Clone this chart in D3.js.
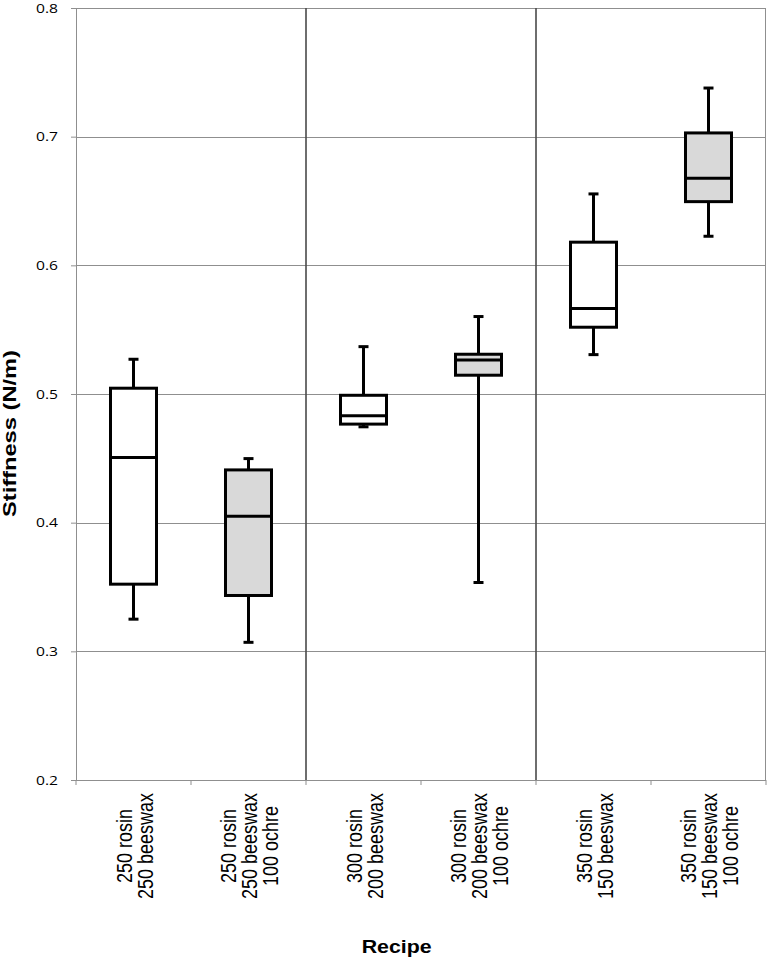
<!DOCTYPE html>
<html>
<head>
<meta charset="utf-8">
<script src="https://cdn.jsdelivr.net/npm/d3@7"></script>
<style>
  html, body { margin: 0; padding: 0; background: #fff; }
  svg { display: block; }
</style>
</head>
<body>
<svg id="chart" width="768" height="959"></svg>
<script>
// ---- data ----
const categories = [
  ["250 rosin", "250 beeswax"],
  ["250 rosin", "250 beeswax", "100 ochre"],
  ["300 rosin", "200 beeswax"],
  ["300 rosin", "200 beeswax", "100 ochre"],
  ["350 rosin", "150 beeswax"],
  ["350 rosin", "150 beeswax", "100 ochre"]
];
const mins    = [0.325, 0.307, 0.4745, 0.3535, 0.5306, 0.6226];
const q1s     = [0.3522, 0.3434, 0.4766, 0.5146, 0.5519, 0.6495];
const medians = [0.4506, 0.4050, 0.4830, 0.5265, 0.5664, 0.6677];
const q3s     = [0.5045, 0.4410, 0.4990, 0.5309, 0.6180, 0.7029];
const maxs    = [0.5270, 0.4498, 0.5368, 0.5602, 0.6555, 0.7378];
const withOchre = [false, true, false, true, false, true];
const groupStarts = [2, 4]; // separators before these categories
const yTicks = [0.2, 0.3, 0.4, 0.5, 0.6, 0.7, 0.8];
const yTitle = "Stiffness (N/m)";
const xTitle = "Recipe";

// ---- layout ----
const pL = 76, pR = 766, pT = 8, pB = 780;
const svg = d3.select("#chart");

const ids = categories.map((c, i) => i);
const x = d3.scaleBand().domain(ids).range([pL, pR]).padding(0);
const y = d3.scaleLinear().domain([0.2, 0.8]).range([pB, pT]);

const gridColor = "#8f8f8f";

// horizontal gridlines
svg.append("g").selectAll("line").data(yTicks.filter(t => t > 0.2)).join("line")
  .attr("x1", pL).attr("x2", pR)
  .attr("y1", d => Math.round(y(d)) + 0.5).attr("y2", d => Math.round(y(d)) + 0.5)
  .attr("stroke", gridColor).attr("stroke-width", 1);

// right border
svg.append("line")
  .attr("x1", pR - 0.5).attr("x2", pR - 0.5).attr("y1", pT).attr("y2", pB)
  .attr("stroke", gridColor).attr("stroke-width", 1);

// group separators
svg.append("g").selectAll("line").data(groupStarts).join("line")
  .attr("x1", d => x(d)).attr("x2", d => x(d))
  .attr("y1", pT).attr("y2", pB)
  .attr("stroke", "#4a4a4a").attr("stroke-width", 1.6);

// y axis
const yAxis = d3.axisLeft(y).tickValues(yTicks).tickFormat(d3.format(".1f")).tickSize(5).tickPadding(13);
const gy = svg.append("g").attr("transform", `translate(${pL},0)`).call(yAxis);
gy.select(".domain").attr("stroke", gridColor).attr("d", `M0.5,${pT}V${pB}`);
gy.selectAll(".tick line").attr("stroke", gridColor);
gy.selectAll(".tick text")
  .attr("fill", "#000")
  .attr("textLength", 22).attr("lengthAdjust", "spacingAndGlyphs")
  .style("font-family", "'Open Sans', sans-serif").style("font-size", "13.5px");

// x axis (ticks at category boundaries)
const bounds = ids.map(i => x(i)).concat([pR]);
svg.append("line").attr("x1", pL - 5).attr("x2", pR).attr("y1", pB + 0.5).attr("y2", pB + 0.5)
  .attr("stroke", gridColor).attr("stroke-width", 1);
svg.append("g").selectAll("line").data(bounds).join("line")
  .attr("x1", d => d).attr("x2", d => d).attr("y1", pB).attr("y2", pB + 5)
  .attr("stroke", gridColor).attr("stroke-width", 1);

// x category labels (rotated, slightly widened like the reference)
const stretch = 1.18, lineH = 21 / stretch, fs = 18;
const labels = svg.append("g").selectAll("text").data(ids).join("text")
  .attr("transform", i => `translate(${x(i) + x.bandwidth() / 2 + 1},846) scale(${stretch},1) rotate(-90)`)
  .attr("text-anchor", "middle")
  .style("font-family", "'Liberation Sans', Arial, sans-serif")
  .style("font-size", fs + "px")
  .attr("fill", "#000");
labels.each(function(i) {
  const lines = categories[i];
  const n = lines.length;
  d3.select(this).selectAll("tspan").data(lines).join("tspan")
    .attr("x", 0)
    .attr("y", (d, k) => (k - (n - 1) / 2) * lineH + 6.5)
    .text(d => d);
});

// boxes
const bw = x.bandwidth() * 0.4;
const capW = 10;
const boxes = svg.append("g").selectAll("g").data(ids).join("g")
  .attr("transform", i => `translate(${x(i) + x.bandwidth() / 2},0)`);
boxes.append("line")
  .attr("x1", 0).attr("x2", 0)
  .attr("y1", i => y(maxs[i])).attr("y2", i => y(mins[i]))
  .attr("stroke", "#000").attr("stroke-width", 3);
boxes.append("line")
  .attr("x1", -capW / 2).attr("x2", capW / 2)
  .attr("y1", i => y(maxs[i])).attr("y2", i => y(maxs[i]))
  .attr("stroke", "#000").attr("stroke-width", 3);
boxes.append("line")
  .attr("x1", -capW / 2).attr("x2", capW / 2)
  .attr("y1", i => y(mins[i])).attr("y2", i => y(mins[i]))
  .attr("stroke", "#000").attr("stroke-width", 3);
boxes.append("rect")
  .attr("x", -bw / 2).attr("width", bw)
  .attr("y", i => y(q3s[i])).attr("height", i => y(q1s[i]) - y(q3s[i]))
  .attr("fill", i => withOchre[i] ? "#d9d9d9" : "#ffffff")
  .attr("stroke", "#000").attr("stroke-width", 3);
boxes.append("line")
  .attr("x1", -bw / 2).attr("x2", bw / 2)
  .attr("y1", i => y(medians[i])).attr("y2", i => y(medians[i]))
  .attr("stroke", "#000").attr("stroke-width", 3);

// axis titles
svg.append("text")
  .attr("transform", "translate(16,433.5) rotate(-90)")
  .attr("text-anchor", "middle")
  .attr("textLength", 167).attr("lengthAdjust", "spacingAndGlyphs")
  .style("font-family", "'Liberation Sans', Arial, sans-serif")
  .style("font-size", "19px").style("font-weight", "bold")
  .attr("fill", "#000")
  .text(yTitle);
svg.append("text")
  .attr("x", 396.7).attr("y", 953)
  .attr("text-anchor", "middle")
  .attr("textLength", 70).attr("lengthAdjust", "spacingAndGlyphs")
  .style("font-family", "'Liberation Sans', Arial, sans-serif")
  .style("font-size", "18px").style("font-weight", "bold")
  .attr("fill", "#000")
  .text(xTitle);
</script>
</body>
</html>
